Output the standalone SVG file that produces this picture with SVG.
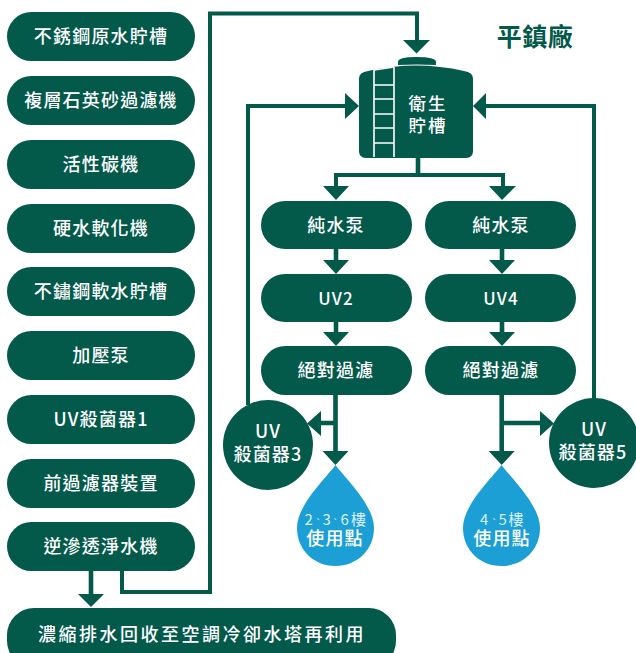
<svg xmlns="http://www.w3.org/2000/svg" width="636" height="653" viewBox="0 0 636 653">
<style>
.p{fill:#03594a}
.d{fill:#1b9fd5}
.l{fill:none;stroke:#03594a;stroke-width:4.6}
.k{fill:none;stroke:#03594a;stroke-width:4}
.a{fill:#03594a}
text{font-family:"Noto Sans CJK TC","Noto Sans",sans-serif;fill:#fff;text-anchor:middle}
.t{font-size:18px;font-weight:500;letter-spacing:1.2px}
.s{font-size:15px;font-weight:400;fill:#d8f0fa;text-anchor:start}
.c{font-size:8px}
.r{fill:none;stroke:#fff;stroke-width:1.6}
</style>
<rect width="636" height="653" fill="#fff"/>
<g id="connectors">
<path class="k" d="M122 571V592H210V13.500H417V42"/>
<path class="a" d="M403 40H430L416.500 53.500Z"/>
<path class="l" d="M91 571V596"/>
<path class="a" d="M78 594H104L91 607Z"/>
<path class="l" d="M418 157V175"/>
<path class="k" d="M336 175H503M336 173V188M503 173V188"/>
<path class="a" d="M323 186H349L336 200ZM489 186H516L502 200Z"/>
<path class="l" d="M336 249V262M502 249V262M336 322V334M502 322V334"/>
<path class="a" d="M323 260H349L336 274ZM489 260H515L502 274ZM323 332H349L336 346ZM489 332H515L502 346Z"/>
<path class="l" d="M335.500 395V453M501.700 395V453M335.500 423H320M501.700 423H542"/>
<path class="a" d="M322.500 451H348.500L335.500 465ZM488.700 451H514.700L501.700 465ZM321 411V436L307 423.500ZM540 411V436L554 423.500Z"/>
<path class="k" d="M248 405V106H347M594 405V106H484"/>
<path class="a" d="M345 93V119L359 106ZM486 93V119L473 106Z"/>
</g>
<g id="n1"><rect class="p" x="7" y="12" width="188" height="49" rx="24.5"/><text class="t" x="101" y="43">不銹鋼原水貯槽</text></g>
<g id="n2"><rect class="p" x="7" y="76" width="188" height="49" rx="24.500"/><text class="t" x="101" y="107">複層石英砂過濾機</text></g>
<g id="n3"><rect class="p" x="7" y="140" width="188" height="49" rx="24.500"/><text class="t" x="101" y="171">活性碳機</text></g>
<g id="n4"><rect class="p" x="7" y="204" width="188" height="49" rx="24.500"/><text class="t" x="101" y="235">硬水軟化機</text></g>
<g id="n5"><rect class="p" x="7" y="267" width="188" height="49" rx="24.500"/><text class="t" x="101" y="298">不鏽鋼軟水貯槽</text></g>
<g id="n6"><rect class="p" x="7" y="331" width="188" height="49" rx="24.500"/><text class="t" x="101" y="362">加壓泵</text></g>
<g id="n7"><rect class="p" x="7" y="395" width="188" height="49" rx="24.500"/><text class="t" x="101" y="426">UV殺菌器1</text></g>
<g id="n8"><rect class="p" x="7" y="459" width="188" height="49" rx="24.500"/><text class="t" x="101" y="490">前過濾器裝置</text></g>
<g id="n9"><rect class="p" x="7" y="522" width="188" height="49" rx="24.500"/><text class="t" x="101" y="553">逆滲透淨水機</text></g>
<g id="n10"><rect class="p" x="7" y="608" width="389" height="60" rx="27"/><text class="t" x="202" y="641" style="letter-spacing:2.500px">濃縮排水回收至空調冷卻水塔再利用</text></g>
<g id="title"><text x="535" y="46" style="font-size:25px;font-weight:700;fill:#03594a;letter-spacing:.5px">平鎮廠</text></g>
<g id="tank">
<path class="p" d="M398 65V62Q398 57 416 57Q436 57 436 62V65Q416 64 398 65Z"/>
<path class="p" d="M359 79Q359 72 368 71Q416 60 464 71Q473 72 473 79V151Q473 158 466 158H366Q359 158 359 151Z"/>
<path class="r" d="M374 69V157M394 67V157M374 70L394 67M374 85H394M374 99H394M374 114H394M374 128H394M374 143H394"/>
<text class="t" x="428" y="110" style="letter-spacing:2px;font-size:17.500px">衛生</text>
<text class="t" x="428" y="132" style="letter-spacing:2px;font-size:17.500px">貯槽</text>
</g>
<g id="p1"><rect class="p" x="261" y="201" width="151" height="48" rx="24"/><text class="t" x="336" y="232">純水泵</text></g>
<g id="p2"><rect class="p" x="425" y="201" width="151" height="48" rx="24"/><text class="t" x="501" y="232">純水泵</text></g>
<g id="u2"><rect class="p" x="261" y="274" width="151" height="48" rx="24"/><text class="t" x="336" y="305" style="font-size:17px">UV2</text></g>
<g id="u4"><rect class="p" x="425" y="274" width="151" height="48" rx="24"/><text class="t" x="501" y="305" style="font-size:17px">UV4</text></g>
<g id="f1"><rect class="p" x="261" y="346" width="151" height="49" rx="24.500"/><text class="t" x="336" y="377">絕對過濾</text></g>
<g id="f2"><rect class="p" x="425" y="346" width="151" height="49" rx="24.500"/><text class="t" x="501" y="377">絕對過濾</text></g>
<g id="uv3"><circle class="p" cx="268" cy="445" r="45"/><text class="t" x="268" y="438">UV</text><text class="t" x="268" y="461">殺菌器3</text></g>
<g id="uv5"><circle class="p" cx="594" cy="443" r="45"/><text class="t" x="594" y="436">UV</text><text class="t" x="593" y="459">殺菌器5</text></g>
<g id="d1"><path class="d" d="M335.500 465C345 478 374 505 374 528C374 550 357 566 335.500 566C314 566 297 550 297 528C297 505 326 478 335.500 465Z"/><text class="s" x="304.500" y="525">2<tspan class="c" x="314" dy="-3">、</tspan><tspan x="322.500" dy="3">3</tspan><tspan class="c" x="331" dy="-3">、</tspan><tspan x="340.500" dy="3">6</tspan><tspan x="351">樓</tspan></text><text class="t" x="335" y="545">使用點</text></g>
<g id="d2"><path class="d" d="M501.500 465C511 478 540 505 540 528C540 550 523 566 501.500 566C480 566 463 550 463 528C463 505 492 478 501.500 465Z"/><text class="s" x="480" y="525">4<tspan class="c" x="490" dy="-3">、</tspan><tspan x="498.500" dy="3">5</tspan><tspan x="508.500">樓</tspan></text><text class="t" x="502" y="545">使用點</text></g>
</svg>
